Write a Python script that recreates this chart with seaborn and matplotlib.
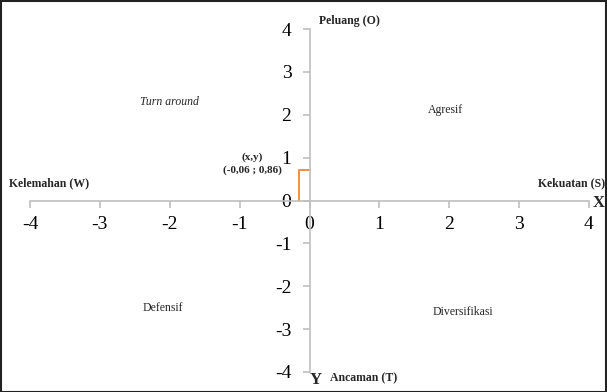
import matplotlib
matplotlib.use("Agg")
import matplotlib.pyplot as plt
import seaborn as sns
import pandas as pd
from matplotlib.patches import Rectangle

# position of the strategy point (as drawn) and its label
point_x = [-0.15, -0.15, 0.0]
point_y = [0.0, 0.70, 0.70]
point_label = "(-0,06 ; 0,86)"

ticks = [-4, -3, -2, -1, 0, 1, 2, 3, 4]
quadrants = ["Turn around", "Agresif", "Defensif", "Diversifikasi"]
quad_x = [-2.0, 1.95, -2.1, 2.2]
quad_y = [2.3, 2.1, -2.5, -2.6]

sns.set_style("white")
plt.rcParams['font.family'] = ['Liberation Serif', 'DejaVu Serif']
plt.rcParams['axes.unicode_minus'] = False

fig = plt.figure(figsize=(6.07, 3.92), dpi=100)
ax = fig.add_axes([30 / 607, 20 / 392, 559 / 607, 343 / 392])

df = pd.DataFrame({"x": point_x, "y": point_y})
sns.lineplot(data=df, x="x", y="y", sort=False, estimator=None, color="#f28e3c",
             linewidth=1.4, ax=ax)

ax.set_xlim(-4, 4)
ax.set_ylim(-4, 4)
ax.set_xticks(ticks)
ax.set_yticks(ticks)
ax.set_xlabel("")
ax.set_ylabel("")

for s in ["top", "right"]:
    ax.spines[s].set_visible(False)
for s in ["left", "bottom"]:
    ax.spines[s].set_position("zero")
    ax.spines[s].set_color("#bfbfbf")
    ax.spines[s].set_linewidth(1.2)

ax.tick_params(axis="both", direction="out", length=5, width=1.2, color="#bfbfbf",
               labelsize=14, labelcolor="black", bottom=True, left=True)
ax.tick_params(axis="x", pad=6)
ax.tick_params(axis="y", pad=8)

# axis titles
bold = dict(fontweight="bold", fontsize=8.5)
ax.text(0.13, 4.05, "Peluang (O)", ha="left", va="bottom", **bold)
ax.text(0.3, -4.0, "Ancaman (T)", ha="left", va="top", **bold)
ax.text(0.0, -4.0, "Y", ha="left", va="top", fontweight="bold", fontsize=12)
ax.text(4.05, -0.05, "X", ha="left", va="center", fontweight="bold", fontsize=12)
ax.text(-4.3, 0.4, "Kelemahan (W)", ha="left", va="center", **bold)
ax.text(4.23, 0.4, "Kekuatan (S)", ha="right", va="center", **bold)

# quadrant names
for name, qx, qy in zip(quadrants, quad_x, quad_y):
    ax.text(qx, qy, name, ha="center", va="center", fontsize=8.5,
            style="italic" if name == "Turn around" else "normal")

ax.text(-0.82, 1.0, "(x,y)", ha="center", va="center", fontweight="bold", fontsize=8)
ax.text(-0.82, 0.7, point_label, ha="center", va="center", fontweight="bold", fontsize=8)

for lab in ax.get_xticklabels() + ax.get_yticklabels():
    lab.set_clip_on(False)

fig.add_artist(Rectangle((0.002, 0.0), 0.996, 0.997, transform=fig.transFigure,
                         fill=False, edgecolor="#222222", linewidth=1.5))

fig.savefig("out.png", dpi=100)
